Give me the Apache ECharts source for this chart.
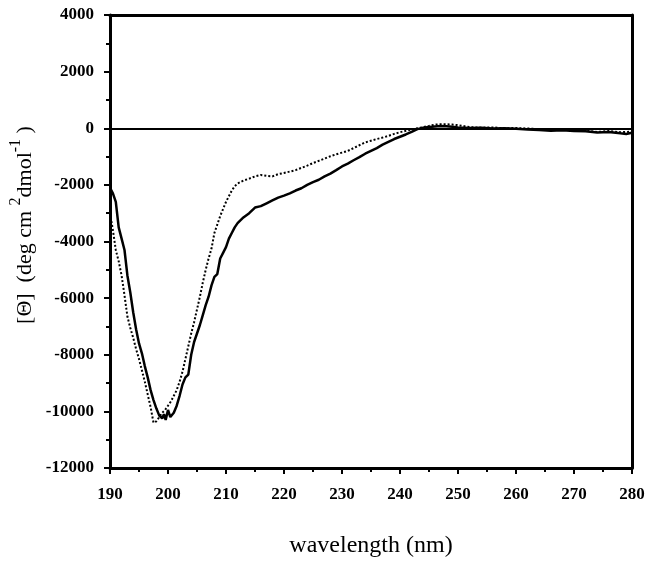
<!DOCTYPE html>
<html>
<head>
<meta charset="utf-8">
<script src="https://cdn.jsdelivr.net/npm/echarts@6/dist/echarts.min.js"></script>
<style>html,body{margin:0;padding:0;background:#fff}#c{width:649px;height:563px}</style>
</head>
<body>
<div id="c"></div>
<script>
var solidWl = [190.0,190.5,191.0,191.5,192.0,192.5,193.0,193.5,194.0,194.5,195.0,195.5,196.0,196.5,197.0,197.5,198.0,198.5,199.0,199.3,199.6,200.0,200.4,201.0,201.5,202.0,202.5,203.0,203.5,204.0,204.5,205.0,205.5,206.0,206.5,207.0,207.5,208.0,208.5,209.0,209.5,210.0,210.5,211.0,211.5,212.0,213.0,214.0,215.0,216.0,217.0,218.0,219.0,220.0,221.0,222.0,223.0,224.0,225.0,226.0,227.0,228.0,229.0,230.0,231.0,232.0,233.0,234.0,235.0,236.0,237.0,238.0,239.0,240.0,241.0,242.0,243.0,244.0,245.0,246.0,247.0,248.0,249.0,250.0,252.0,254.0,256.0,258.0,260.0,262.0,264.0,266.0,268.0,270.0,272.0,274.0,276.0,278.0,279.0,280.0];
var solidVal = [-2100,-2300,-2600,-3500,-3900,-4300,-5200,-5800,-6500,-7100,-7600,-7950,-8400,-8800,-9250,-9600,-9900,-10150,-10250,-10100,-10300,-9950,-10200,-10050,-9800,-9450,-9050,-8800,-8700,-8000,-7550,-7250,-6950,-6600,-6250,-5950,-5550,-5250,-5150,-4600,-4400,-4200,-3900,-3700,-3500,-3350,-3150,-3000,-2800,-2750,-2650,-2550,-2450,-2380,-2300,-2200,-2120,-2000,-1900,-1820,-1700,-1600,-1480,-1350,-1250,-1130,-1020,-900,-800,-700,-580,-480,-380,-300,-220,-130,-30,20,40,60,80,70,50,30,10,20,-10,0,-20,-40,-60,-90,-70,-100,-110,-150,-130,-180,-200,-160];
var dotWl = [190.0,190.5,191.0,191.5,192.0,192.5,193.0,193.5,194.0,194.5,195.0,195.5,196.0,196.5,197.0,197.5,198.0,198.5,199.0,199.5,200.0,200.5,201.0,201.5,202.0,202.5,203.0,203.5,204.0,204.5,205.0,205.5,206.0,206.5,207.0,207.5,208.0,208.5,209.0,209.5,210.0,210.5,211.0,211.5,212.0,213.0,214.0,215.0,216.0,217.0,218.0,219.0,220.0,221.0,222.0,223.0,224.0,225.0,226.0,227.0,228.0,229.0,230.0,231.0,232.0,233.0,234.0,235.0,236.0,237.0,238.0,239.0,240.0,241.0,242.0,243.0,244.0,245.0,246.0,247.0,248.0,249.0,250.0,252.0,254.0,256.0,258.0,260.0,262.0,264.0,266.0,268.0,270.0,272.0,274.0,276.0,278.0,280.0];
var dotVal = [-3000,-3600,-4300,-4700,-5200,-5900,-6650,-7050,-7400,-7800,-8150,-8550,-8950,-9400,-9850,-10400,-10350,-10200,-10050,-9950,-9800,-9650,-9450,-9250,-8950,-8600,-8150,-7700,-7250,-6850,-6400,-5950,-5450,-5000,-4600,-4250,-3700,-3400,-3100,-2850,-2600,-2400,-2200,-2050,-1950,-1850,-1780,-1700,-1650,-1680,-1700,-1620,-1580,-1530,-1480,-1400,-1320,-1230,-1150,-1070,-990,-920,-860,-800,-700,-600,-500,-440,-380,-330,-270,-200,-140,-90,-40,0,40,80,130,140,140,130,110,40,20,30,0,10,-10,-30,-50,-40,-60,-80,-130,-100,-140,-120];
var xTitle = 'wavelength (nm)';
var yTitleParts = ['[\u0398]  (deg cm ', '2', 'dmol', '-1', ' )'];

function pairs(a, b) { return a.map(function (v, i) { return [v, b[i]]; }); }

var chart = echarts.init(document.getElementById('c'), null, {renderer: 'canvas'});
var font = 'Liberation Serif';
chart.setOption({
  backgroundColor: '#fff',
  animation: false,
  grid: {left: 110, right: 17, top: 15, bottom: 93},
  graphic: [{
    type: 'text', x: 22, y: 225, rotation: Math.PI / 2,
    style: {
      text: '{n|' + yTitleParts[0] + '}{s|' + yTitleParts[1] + '}{n|' + yTitleParts[2] + '}{s|' + yTitleParts[3] + '}{n|' + yTitleParts[4] + '}',
      align: 'center', verticalAlign: 'middle', fill: '#000',
      rich: {
        n: {fontFamily: font, fontSize: 22, fill: '#000', lineHeight: 28, verticalAlign: 'bottom'},
        s: {fontFamily: font, fontSize: 16, fill: '#000', lineHeight: 28, verticalAlign: 'top'}
      }
    }
  }],
  xAxis: [{
    type: 'value', min: 190, max: 280, interval: 10,
    axisLine: {onZero: false, lineStyle: {color: '#000', width: 3}},
    axisTick: {inside: false, length: 6, lineStyle: {color: '#000', width: 2}},
    minorTick: {show: true, splitNumber: 2, length: 4, lineStyle: {color: '#000', width: 2}},
    splitLine: {show: false},
    axisLabel: {color: '#000', fontFamily: font, fontWeight: 'bold', fontSize: 17, margin: 18},
    name: xTitle, nameLocation: 'middle', nameGap: 66,
    nameTextStyle: {color: '#000', fontFamily: font, fontSize: 24}
  }, {
    type: 'value', position: 'top', min: 190, max: 280,
    axisLine: {show: true, onZero: false, lineStyle: {color: '#000', width: 3}},
    axisTick: {show: false}, axisLabel: {show: false}, splitLine: {show: false}
  }],
  yAxis: [{
    type: 'value', min: -12000, max: 4000, interval: 2000,
    axisLine: {onZero: false, lineStyle: {color: '#000', width: 3}},
    axisTick: {inside: false, length: 6, lineStyle: {color: '#000', width: 2}},
    minorTick: {show: true, splitNumber: 2, length: 4, lineStyle: {color: '#000', width: 2}},
    splitLine: {show: false},
    axisLabel: {color: '#000', fontFamily: font, fontWeight: 'bold', fontSize: 17, margin: 16,
      formatter: function (v) { return String(v); }}
  }, {
    type: 'value', position: 'right', min: -12000, max: 4000,
    axisLine: {show: true, onZero: false, lineStyle: {color: '#000', width: 3}},
    axisTick: {show: false}, axisLabel: {show: false}, splitLine: {show: false}
  }],
  series: [{
    type: 'line', data: pairs(solidWl, solidVal), showSymbol: false, smooth: false,
    lineStyle: {color: '#000', width: 2.5},
    markLine: {
      silent: true, symbol: 'none', label: {show: false},
      lineStyle: {color: '#000', width: 2, type: 'solid'},
      data: [{yAxis: 0}]
    }
  }, {
    type: 'line', data: pairs(dotWl, dotVal), showSymbol: false, smooth: false,
    lineStyle: {color: '#000', width: 2, type: [2, 2]}
  }]
});
</script>
</body>
</html>
